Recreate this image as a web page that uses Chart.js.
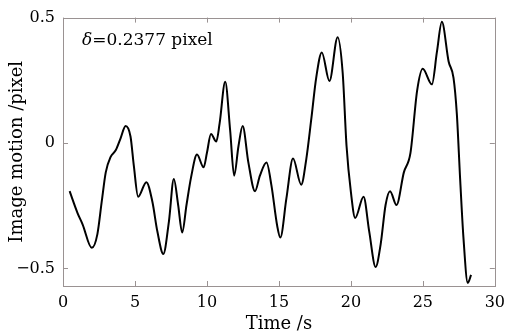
<!DOCTYPE html>
<html><head><meta charset="utf-8">
<script src="https://cdn.jsdelivr.net/npm/chart.js@4"></script>
<style>html,body{margin:0;padding:0;background:#fff}#c{display:block}</style>
</head><body>
<canvas id="c" width="512" height="335"></canvas>
<script>
const times = [0.46,1.01,1.36,2.0,2.39,2.69,2.97,3.31,3.66,4.0,4.35,4.69,4.92,5.22,5.79,6.21,6.55,6.97,7.36,7.70,8.0,8.28,8.58,8.9,9.31,9.77,10.0,10.28,10.65,10.88,11.27,11.61,11.89,12.19,12.48,12.88,13.34,13.68,14.14,14.48,14.88,15.1,15.52,15.98,16.55,16.9,17.24,17.59,17.98,18.51,19.08,19.43,19.70,20.0,20.3,20.88,21.27,21.72,22.07,22.41,22.72,23.17,23.68,24.14,24.6,24.99,25.63,25.98,26.32,26.79,27.13,27.36,27.59,27.82,28.12,28.35];
const motion = [-0.192,-0.279,-0.324,-0.418,-0.363,-0.234,-0.117,-0.055,-0.029,0.019,0.068,0.026,-0.090,-0.214,-0.156,-0.234,-0.351,-0.442,-0.312,-0.143,-0.247,-0.357,-0.247,-0.136,-0.046,-0.097,-0.039,0.036,0.006,0.078,0.244,0.052,-0.130,-0.013,0.068,-0.078,-0.192,-0.130,-0.078,-0.169,-0.330,-0.377,-0.221,-0.062,-0.166,-0.065,0.091,0.260,0.361,0.247,0.422,0.280,-0.013,-0.195,-0.299,-0.214,-0.351,-0.494,-0.403,-0.247,-0.192,-0.247,-0.117,-0.039,0.208,0.296,0.234,0.364,0.483,0.325,0.260,0.117,-0.143,-0.377,-0.558,-0.526];
const xTicks = [0,5,10,15,20,25,30];
const yTicks = [-0.5,0,0.5];
const annotationText = "=0.2377 pixel";
const annotationSymbol = "δ";
const xTitle = "Time /s";
const yTitle = "Image motion /pixel";

const FONT = '"DejaVu Serif"';
const FRAME = '#9a9292';
const framePlugin = {
  id: 'frame',
  afterDraw(chart) {
    const {ctx, chartArea: a, scales: {x, y}} = chart;
    ctx.save();
    ctx.strokeStyle = FRAME;
    ctx.lineWidth = 1;
    ctx.strokeRect(Math.round(a.left) + 0.5, Math.round(a.top) + 0.5, Math.round(a.right - a.left), Math.round(a.bottom - a.top));
    const L = 5;
    ctx.beginPath();
    xTicks.forEach(v => {
      const px = Math.round(x.getPixelForValue(v)) + 0.5;
      ctx.moveTo(px, a.bottom); ctx.lineTo(px, a.bottom - L);
      ctx.moveTo(px, a.top); ctx.lineTo(px, a.top + L);
    });
    yTicks.forEach(v => {
      const py = Math.round(y.getPixelForValue(v)) + 0.5;
      ctx.moveTo(a.left, py); ctx.lineTo(a.left + L, py);
      ctx.moveTo(a.right, py); ctx.lineTo(a.right - L, py);
    });
    ctx.stroke();
    ctx.fillStyle = '#000';
    ctx.textBaseline = 'alphabetic';
    ctx.font = 'italic 17px ' + FONT;
    ctx.fillText(annotationSymbol, 82, 45);
    const w = ctx.measureText(annotationSymbol).width;
    ctx.font = '17px ' + FONT;
    ctx.fillText(annotationText, 82 + w, 45);
    ctx.restore();
  }
};

new Chart(document.getElementById('c'), {
  type: 'line',
  data: {
    datasets: [{
      data: times.map((t, i) => ({x: t, y: motion[i]})),
      borderColor: '#000',
      borderWidth: 2,
      pointRadius: 0,
      cubicInterpolationMode: 'monotone',
      fill: false
    }]
  },
  options: {
    responsive: false,
    animation: false,
    layout: {padding: {top: 12, right: 13, left: 0, bottom: 0}},
    plugins: {legend: {display: false}, tooltip: {enabled: false}},
    scales: {
      x: {
        type: 'linear', min: 0, max: 30,
        afterBuildTicks: s => { s.ticks = xTicks.map(v => ({value: v})); },
        afterFit: s => { s.height = 49; },
        grid: {display: false, drawTicks: false},
        border: {display: false},
        ticks: {color: '#000', padding: 7, font: {family: 'DejaVu Serif', size: 16}, maxRotation: 0},
        title: {display: true, text: xTitle, color: '#000', padding: {top: -2, bottom: 0}, font: {family: 'DejaVu Serif', size: 18}}
      },
      y: {
        type: 'linear', min: -0.57, max: 0.5,
        afterBuildTicks: s => { s.ticks = yTicks.map(v => ({value: v})); },
        afterFit: s => { s.width = 63; },
        grid: {display: false, drawTicks: false},
        border: {display: false},
        ticks: {color: '#000', padding: 8, font: {family: 'DejaVu Serif', size: 16},
          callback: v => String(v).replace('-', '\u2212')},
        title: {display: true, text: yTitle, color: '#000', padding: {top: 7, bottom: 0}, font: {family: 'DejaVu Serif', size: 18}}
      }
    }
  },
  plugins: [framePlugin]
});
</script>
</body></html>
